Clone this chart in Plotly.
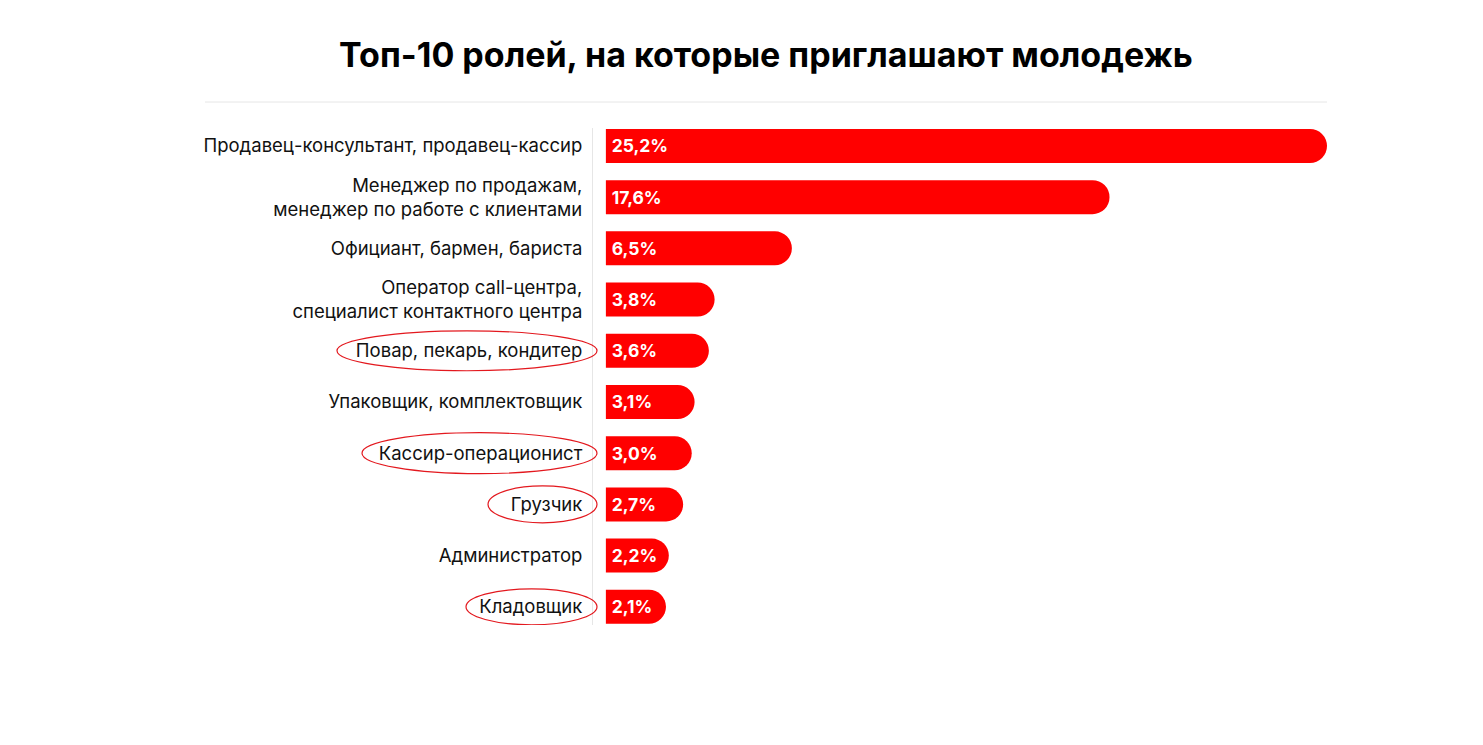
import plotly.graph_objects as go

categories = [
    "Продавец-консультант, продавец-кассир",
    "Менеджер по продажам,<br>менеджер по работе с клиентами",
    "Официант, бармен, бариста",
    "Оператор call-центра,<br>специалист контактного центра",
    "Повар, пекарь, кондитер",
    "Упаковщик, комплектовщик",
    "Кассир-операционист",
    "Грузчик",
    "Администратор",
    "Кладовщик",
]
values = [25.2, 17.6, 6.5, 3.8, 3.6, 3.1, 3.0, 2.7, 2.2, 2.1]
value_labels = ["25,2%", "17,6%", "6,5%", "3,8%", "3,6%", "3,1%", "3,0%", "2,7%", "2,2%", "2,1%"]
highlighted = ["Повар, пекарь, кондитер", "Кассир-операционист", "Грузчик", "Кладовщик"]

title_text = "Топ-10 ролей, на которые приглашают молодежь"

FONT = "Inter"
OFF = 8  # page body margin
W, H = 1483 - 2 * OFF, 745 - 2 * OFF
L, R, T, B = 593 - OFF, 1327 - OFF, 128 - OFF, 625 - OFF

fig = go.Figure(go.Bar(
    x=values,
    y=categories,
    orientation="h",
    text=value_labels,
    texttemplate="\u2009%{text}",
    textposition="inside",
    insidetextanchor="start",
    textangle=0,
    constraintext="none",
    insidetextfont=dict(family=FONT, size=17.5, color="white", weight="bold"),
    marker=dict(color="#ff0000", line=dict(width=0)),
    hoverinfo="skip",
))

# ellipse extents (pixel x of left edge in the reference, y half-height in category units)
ellipse_spec = {
    "Повар, пекарь, кондитер": (337, 0.39),
    "Кассир-операционист": (362, 0.40),
    "Грузчик": (488, 0.36),
    "Кладовщик": (466, 0.35),
}
shapes = []
for name in highlighted:
    idx = categories.index(name)
    xl, hh = ellipse_spec[name]
    shapes.append(dict(
        type="circle", xref="paper", yref="y",
        x0=(xl - OFF - L) / (R - L), x1=(597 - OFF - L) / (R - L),
        y0=idx - hh, y1=idx + hh,
        line=dict(color="#e3181e", width=1.2),
    ))
# separator under title
sep_y = 1 + (T - (102 - OFF)) / (B - T)
shapes.append(dict(
    type="line", xref="paper", yref="paper",
    x0=(205 - OFF - L) / (R - L), x1=1.0,
    y0=sep_y, y1=sep_y,
    line=dict(color="#e6e6e6", width=1),
))

fig.update_layout(
    width=W, height=H,
    margin=dict(l=L, r=W - R, t=T, b=H - B, pad=0),
    paper_bgcolor="white",
    plot_bgcolor="white",
    bargap=0.336,
    barcornerradius="50%",
    showlegend=False,
    title=dict(
        text=title_text,
        x=(766 - OFF) / W, xref="container", xanchor="center",
        y=1 - (55 - OFF) / H, yref="container", yanchor="middle",
        font=dict(family=FONT, size=34, color="#000000", weight="bold"),
    ),
    xaxis=dict(
        range=[-0.45, 25.2],
        visible=False,
        showgrid=False, zeroline=False,
    ),
    yaxis=dict(
        type="category",
        categoryorder="array",
        categoryarray=categories,
        range=[9.355, -0.35],
        showgrid=False, zeroline=False,
        showline=True, linecolor="#e6e6e6", linewidth=1,
        ticks="",
        ticklabelstandoff=6,
        tickfont=dict(family=FONT, size=18.5, color="#111111"),
    ),
    shapes=shapes,
    font=dict(family=FONT),
)

fig.write_html("out.html")
